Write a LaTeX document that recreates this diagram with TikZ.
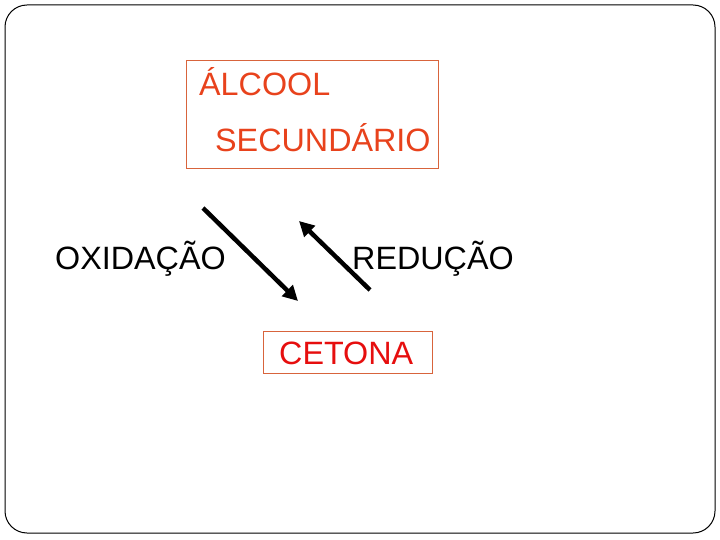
\documentclass[tikz,border=0pt]{standalone}
\usepackage{fontspec}
\setmainfont{Liberation Sans}
\usetikzlibrary{arrows.meta}
\definecolor{orng}{HTML}{E8421C}
\definecolor{boxline}{HTML}{D8643C}
\definecolor{redtxt}{HTML}{E60E0E}
\begin{document}
\begin{tikzpicture}[x=1pt,y=-1pt,
  lbl/.style={inner sep=0pt,font=\fontsize{32.3}{36}\selectfont},
  frame/.style={draw=boxline,line width=0.8pt},
  rx/.style={line width=4.5pt,-{Triangle[length=15pt,width=15pt]}}]
\useasboundingbox (0,0) rectangle (720,540);
\draw[line width=1pt,rounded corners=22pt] (5,5) rectangle (715,533);
\node[frame,minimum width=252pt,minimum height=108pt,inner sep=0pt] (box1) at (312,114) {};
\node[lbl,anchor=base west,text=orng] (alc) at (199,96) {ÁLCOOL};
\node[lbl,anchor=base west,text=orng] (sec) at (215,152) {SECUNDÁRIO};
\node[frame,minimum width=169pt,minimum height=42pt,inner sep=0pt] (box2) at (347.5,352) {};
\node[lbl,anchor=base west,text=redtxt] (cet) at (279,364) {CETONA};
\node[lbl,anchor=base west] (oxi) at (55,269) {OXIDAÇÃO};
\node[lbl,anchor=base west] (red) at (352,269) {REDUÇÃO};
\coordinate (a1) at (203,208);
\coordinate (a2) at (298,301);
\coordinate (b1) at (370,290);
\coordinate (b2) at (299,221);
\draw[rx] (a1) -- (a2);
\draw[rx] (b1) -- (b2);
\end{tikzpicture}
\end{document}
